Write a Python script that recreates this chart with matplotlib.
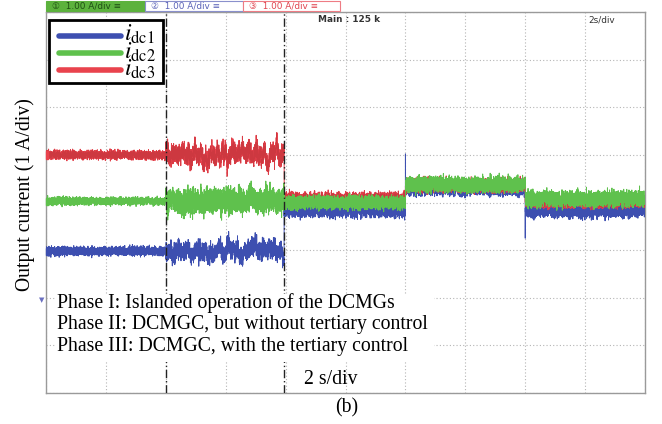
import numpy as np
import matplotlib
matplotlib.use("Agg")
import matplotlib.pyplot as plt
from matplotlib.lines import Line2D
from matplotlib.patches import Rectangle

plt.rcParams["mathtext.fontset"] = "stix"

# ---- scope record: 2 s/div, 1 A/div (values in divisions from bottom) ----
seg_edges = [0.0, 4.0, 7.95, 12.0, 16.0, 20.0]      # s
phase_lines = [4.0, 7.95]                          # s

level_dc1 = [2.98, 2.98, 3.84, 4.30, 3.84]
level_dc2 = [4.03, 4.03, 4.00, 4.38, 4.08]
level_dc3 = [5.00, 5.00, 4.08, 4.36, 4.02]

ripple_dc1 = [0.08, 0.14, 0.13, 0.13, 0.13]
ripple_dc2 = [0.07, 0.22, 0.12, 0.14, 0.14]
ripple_dc3 = [0.08, 0.16, 0.11, 0.12, 0.11]

# slow swing of the phase-II oscillation (div)
swing_dc1 = 0.28
swing_dc2 = 0.10
swing_dc3 = 0.30

spike_times = [12.0, 16.0]
spike_dc1 = [5.02, 3.25]

colors = {"dc1": "#3d4fb0", "dc2": "#5fc14d", "dc3": "#e9434d"}
labels = {"dc1": r"$i_{\mathrm{dc1}}$", "dc2": r"$i_{\mathrm{dc2}}$",
          "dc3": r"$i_{\mathrm{dc3}}$"}

phase_text = ["Phase I: Islanded operation of the DCMGs",
              "Phase II: DCMGC, but without tertiary control",
              "Phase III: DCMGC, with the tertiary control"]

t = np.linspace(0, 20, 9000)


def trace(levels, ripples, swing, seed):
    r = np.random.default_rng(seed)
    idx = np.clip(np.searchsorted(seg_edges, t, side="right") - 1, 0, 4)
    base = np.asarray(levels)[idx]
    amp = np.asarray(ripples)[idx]
    y = base + amp * r.uniform(-1, 1, t.size) + 0.3 * amp * r.normal(0, 1, t.size)
    # slow oscillation during phase II
    slow = np.convolve(r.normal(0, 1, t.size), np.ones(40) / 40, mode="same")
    slow = slow / np.abs(slow).max()
    mid = np.convolve(r.normal(0, 1, t.size), np.ones(8) / 8, mode="same")
    mid = mid / np.abs(mid).max()
    mask = idx == 1
    ramp = np.linspace(0.6, 1.2, mask.sum())
    y[mask] += swing * slow[mask] * ramp + 0.6 * swing * mid[mask]
    return y


y1 = trace(level_dc1, ripple_dc1, swing_dc1, 11)
y2 = trace(level_dc2, ripple_dc2, swing_dc2, 12)
y3 = trace(level_dc3, ripple_dc3, swing_dc3, 13)

# transients of i_dc1 at the load steps
for ts, ys in zip(spike_times, spike_dc1):
    k = np.searchsorted(t, ts)
    y1[k] = ys

fig = plt.figure(figsize=(6.62, 4.24), dpi=100)
W, H = 662, 424
ax = fig.add_axes([46 / W, 31 / H, 599 / W, 381 / H])
ax.set_xlim(0, 20)
ax.set_ylim(0, 8)
ax.set_xticks(np.arange(0, 21, 2))
ax.set_yticks(np.arange(0, 9, 1))
ax.tick_params(length=0, labelbottom=False, labelleft=False)
ax.grid(True, color="#b5b5b5", linestyle=(0, (1, 2)), linewidth=0.8)
for s in ax.spines.values():
    s.set_color("#9a9a9a")
    s.set_linewidth(1.0)

for y, key, z in [(y1, "dc1", 3), (y3, "dc3", 4), (y2, "dc2", 5)]:
    ax.plot(t, y, color=colors[key], lw=0.7, zorder=z)
ax.plot(t, y3, color="#8e1f25", lw=0.2, alpha=0.3, zorder=4)

for x in phase_lines:
    ax.axvline(x, color="#222222", lw=1.0, linestyle=(0, (6, 2, 1, 2)), zorder=6)

# legend box, drawn in pixel coordinates of the figure
fig.patches.append(Rectangle((49 / W, 1 - 83 / H), 114 / W, 63 / H,
                             transform=fig.transFigure, facecolor="white",
                             edgecolor="black", linewidth=2.0, zorder=10))
keys = ["dc1", "dc2", "dc3"]
for yp, key in zip([36, 53, 70], keys):
    fig.lines.append(Line2D([59 / W, 121 / W], [1 - yp / H, 1 - yp / H],
                            transform=fig.transFigure, color=colors[key],
                            lw=4, solid_capstyle="round", zorder=11))
fig.text(124 / W, 1 - 22 / H, "\n".join(labels[k] for k in keys),
         fontsize=17, linespacing=0.655, ha="left", va="top", zorder=12)

# channel ground markers on the left edge
for yv, key in [(5.0, "dc3"), (4.02, "dc2"), (2.97, "dc1")]:
    ax.add_patch(Rectangle((0.0, yv - 0.08), 0.07, 0.16, color=colors[key],
                           clip_on=False, zorder=7))

# white block behind the phase description
fig.patches.append(Rectangle((56 / W, 1 - 362 / H), 378 / W, 68 / H,
                             transform=fig.transFigure, facecolor="white",
                             edgecolor="none", zorder=5))
serif = "Liberation Serif"
for i, line in enumerate(phase_text):
    fig.text(57 / W, 1 - (303 + 22 * i) / H, line, family=serif, fontsize=14.2,
             va="center", ha="left", zorder=6)
fig.text(42 / W, 1 - 300 / H, "\u25bc", color="#6a6fc0", fontsize=5,
         ha="center", va="center")

fig.text(331 / W, 1 - 379 / H, "2 s/div", family=serif, fontsize=14.2,
         ha="center", va="center", zorder=6)
fig.text(347 / W, 1 - 408 / H, "(b)", family=serif, fontsize=14.2,
         ha="center", va="center")
fig.text(25 / W, 1 - 195 / H, "Output current (1 A/div)", family=serif,
         fontsize=14.2, rotation=90, ha="center", va="center")

# channel header bar
hdr = [(46, 145, "#5cb23d", "#5cb23d", "#1f4f14", "\u2460"),
       (145, 243, "white", "#8a90cc", "#5a62b8", "\u2461"),
       (243, 340, "white", "#ee7c84", "#e0444f", "\u2462")]
for x0, x1, fc, ec, tc, num in hdr:
    fig.patches.append(Rectangle((x0 / W, 1 - 11 / H), (x1 - x0) / W, 10 / H,
                                 transform=fig.transFigure, facecolor=fc,
                                 edgecolor=ec, linewidth=0.8))
    fig.text((x0 + 6) / W, 1 - 6 / H, num + "  1.00 A\u2215div \u2261", color=tc,
             fontsize=6.4, ha="left", va="center", family="DejaVu Sans")

fig.text(318 / W, 1 - 20 / H, "Main : 125 k", fontsize=6.4, ha="left",
         va="center", family="DejaVu Sans", fontweight="bold", color="#333333")
fig.text(588 / W, 1 - 20 / H, "2s/div", fontsize=6.4, ha="left", va="center",
         family="DejaVu Sans", color="#333333")

fig.savefig("out.png", dpi=100)
